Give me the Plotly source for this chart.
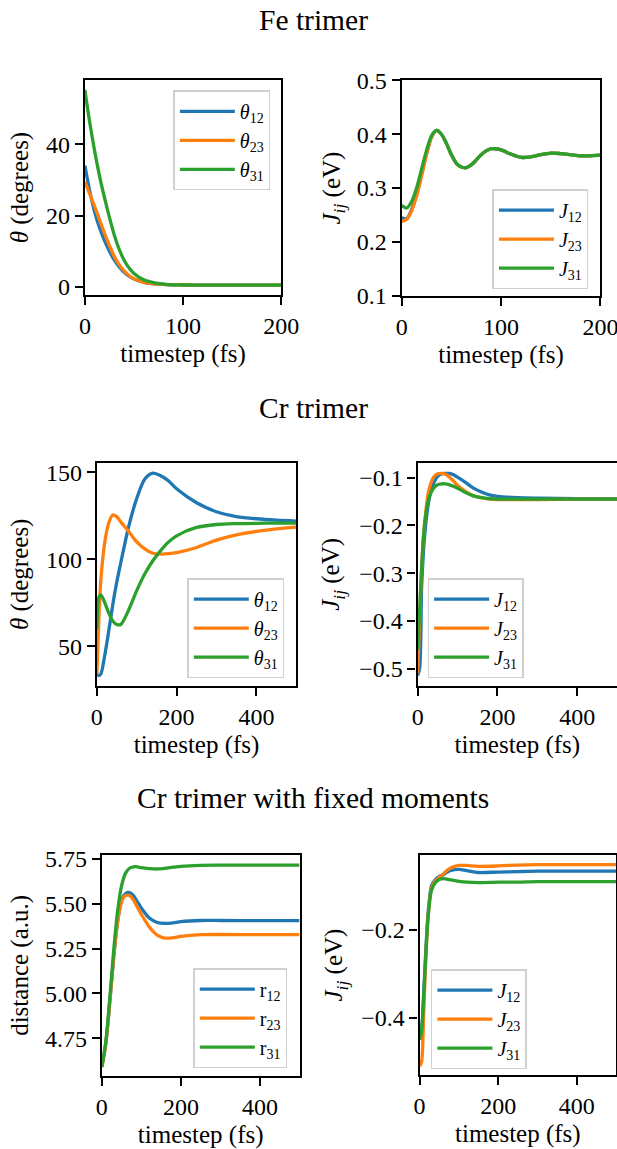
import plotly.graph_objects as go

# The photographed page maps figure pixel p to screen pixel A + S*p (measured);
# every position below is given in screen pixels of the reference and converted.
AX, SX = 4.9, 0.965
AY, SY = 11.5, 0.98
W, H = 636, 1162
FONT = "Liberation Serif"
BLUE, ORANGE, GREEN = "#1f77b4", "#ff7f0e", "#2ca02c"

# ---------------- Fe trimer: angles ----------------
fe_t_theta = [0, 5, 10, 15, 20, 25, 30, 35, 40, 45, 50, 60, 70, 80, 90, 100, 120, 140, 160, 180, 200]
fe_theta12 = [34, 26.8, 21, 16.5, 13, 10, 7.5, 5.6, 4.1, 3.0, 2.2, 1.3, 0.9, 0.7, 0.6, 0.55, 0.5, 0.5, 0.5, 0.5, 0.5]
fe_theta23 = [29.5, 26, 22.5, 18.8, 15, 11.6, 8.5, 6.2, 4.5, 3.2, 2.3, 1.3, 0.9, 0.7, 0.6, 0.55, 0.5, 0.5, 0.5, 0.5, 0.5]
fe_theta31 = [55.2, 46, 38, 31, 25, 19.5, 14.5, 10.5, 7.5, 5.3, 3.8, 2.0, 1.2, 0.8, 0.6, 0.55, 0.5, 0.5, 0.5, 0.5, 0.5]

# ---------------- Fe trimer: exchange ----------------
fe_t_J = [0, 5, 10, 15, 20, 25, 30, 35, 40, 45, 50, 55, 60, 65, 70, 75, 80, 85, 90, 95, 100,
          105, 110, 120, 130, 140, 150, 160, 170, 180, 190, 200]
fe_J12 = [0.245, 0.243, 0.260, 0.288, 0.325, 0.364, 0.395, 0.407, 0.400, 0.383, 0.362, 0.346, 0.339, 0.338,
          0.343, 0.352, 0.362, 0.369, 0.373, 0.373, 0.371, 0.367, 0.363, 0.357, 0.358, 0.362, 0.365, 0.364,
          0.362, 0.360, 0.360, 0.361]
fe_J23 = [0.238, 0.242, 0.258, 0.285, 0.322, 0.362, 0.394, 0.407, 0.400, 0.383, 0.362, 0.346, 0.339, 0.338,
          0.343, 0.352, 0.362, 0.369, 0.373, 0.373, 0.371, 0.367, 0.363, 0.357, 0.358, 0.362, 0.365, 0.364,
          0.362, 0.360, 0.360, 0.361]
fe_J31 = [0.268, 0.263, 0.275, 0.300, 0.335, 0.370, 0.397, 0.407, 0.400, 0.383, 0.362, 0.346, 0.339, 0.338,
          0.343, 0.352, 0.362, 0.369, 0.373, 0.373, 0.371, 0.367, 0.363, 0.357, 0.358, 0.362, 0.365, 0.364,
          0.362, 0.360, 0.360, 0.361]

# ---------------- Cr trimer: angles ----------------
cr_t_theta = [0, 5, 10, 20, 30, 40, 50, 60, 80, 100, 120, 140, 160, 180, 200, 250, 300, 350, 400, 450, 500]
cr_theta12 = [34, 33.2, 34, 45, 59, 74, 87, 98, 119, 135, 146, 149.5, 148, 145, 140.5, 132.5, 127.3, 124.6, 123.3, 122.5, 122]
cr_theta23 = [34, 65, 88, 110, 121, 125.5, 124.5, 121.5, 116, 110, 106, 103.5, 103, 103.2, 103.8, 106.8, 111, 114, 116, 117.5, 118.5]
cr_theta31 = [60, 78, 79.5, 75, 69, 64.5, 62.5, 62.5, 71, 82, 91.5, 99, 105, 110, 113.5, 118.3, 120, 120.5, 120.7, 120.8, 120.8]

# ---------------- Cr trimer: exchange ----------------
cr_t_J = [0, 5, 10, 15, 20, 25, 30, 40, 50, 60, 70, 80, 90, 100, 120, 140, 160, 180, 200, 250, 300, 400, 500]
cr_J12 = [-0.514, -0.50, -0.33, -0.25, -0.20, -0.165, -0.14, -0.112, -0.097, -0.092, -0.091, -0.091, -0.094,
          -0.099, -0.110, -0.122, -0.130, -0.136, -0.139, -0.142, -0.143, -0.144, -0.144]
cr_J23 = [-0.51, -0.40, -0.29, -0.22, -0.175, -0.14, -0.12, -0.099, -0.092, -0.091, -0.093, -0.099, -0.107,
          -0.116, -0.129, -0.138, -0.142, -0.145, -0.146, -0.146, -0.146, -0.145, -0.145]
cr_J31 = [-0.46, -0.38, -0.29, -0.22, -0.18, -0.155, -0.138, -0.122, -0.115, -0.113, -0.113, -0.115, -0.118,
          -0.122, -0.131, -0.138, -0.142, -0.144, -0.145, -0.145, -0.145, -0.145, -0.145]

# ---------------- Cr trimer with fixed moments: distances ----------------
fx_t_r = [0, 10, 20, 30, 40, 50, 60, 70, 80, 90, 100, 120, 140, 160, 180, 200, 250, 300, 400, 500]
fx_r12 = [4.59, 4.72, 4.95, 5.20, 5.40, 5.52, 5.556, 5.562, 5.545, 5.51, 5.475, 5.42, 5.395, 5.39, 5.393, 5.40,
          5.406, 5.406, 5.405, 5.405]
fx_r23 = [4.59, 4.72, 4.95, 5.20, 5.40, 5.51, 5.545, 5.545, 5.52, 5.48, 5.44, 5.37, 5.325, 5.308, 5.31, 5.318,
          5.327, 5.328, 5.327, 5.327]
fx_r31 = [4.59, 4.73, 4.97, 5.24, 5.46, 5.60, 5.67, 5.697, 5.705, 5.705, 5.70, 5.695, 5.693, 5.697, 5.703, 5.708,
          5.713, 5.714, 5.714, 5.714]

# ---------------- Cr trimer with fixed moments: exchange ----------------
fx_t_J = [0, 5, 10, 15, 20, 25, 30, 40, 50, 60, 70, 80, 100, 120, 150, 200, 250, 300, 400, 500]
fx_J12 = [-0.45, -0.43, -0.35, -0.26, -0.18, -0.13, -0.10, -0.085, -0.078, -0.074, -0.068, -0.064, -0.062,
          -0.065, -0.069, -0.068, -0.067, -0.066, -0.066, -0.066]
fx_J23 = [-0.51, -0.50, -0.40, -0.28, -0.19, -0.135, -0.105, -0.088, -0.080, -0.073, -0.064, -0.058, -0.053,
          -0.053, -0.055, -0.054, -0.052, -0.051, -0.051, -0.051]
fx_J31 = [-0.45, -0.43, -0.36, -0.27, -0.19, -0.14, -0.11, -0.092, -0.085, -0.083, -0.084, -0.086, -0.089,
          -0.091, -0.092, -0.091, -0.091, -0.090, -0.090, -0.090]

# ---------------- tick labels ----------------
x_ticks_200 = [0, 100, 200]
x_ticks_500 = [0, 200, 400]
fe_theta_ticks = [0, 20, 40]
fe_J_ticks = [0.1, 0.2, 0.3, 0.4, 0.5]
fe_J_ticktext = ["0.1", "0.2", "0.3", "0.4", "0.5"]
cr_theta_ticks = [50, 100, 150]
cr_J_ticks = [-0.5, -0.4, -0.3, -0.2, -0.1]
cr_J_ticktext = ["\u22120.5", "\u22120.4", "\u22120.3", "\u22120.2", "\u22120.1"]
fx_r_ticks = [4.75, 5.00, 5.25, 5.50, 5.75]
fx_r_ticktext = ["4.75", "5.00", "5.25", "5.50", "5.75"]
fx_J_ticks = [-0.4, -0.2]
fx_J_ticktext = ["\u22120.4", "\u22120.2"]

titles = ["Fe trimer", "Cr trimer", "Cr trimer with fixed moments"]
theta_names = ["<i>θ</i><sub>12</sub>", "<i>θ</i><sub>23</sub>", "<i>θ</i><sub>31</sub>"]
J_names = ["<i>J</i><sub>12</sub>", "<i>J</i><sub>23</sub>", "<i>J</i><sub>31</sub>"]
r_names = ["r<sub>12</sub>", "r<sub>23</sub>", "r<sub>31</sub>"]
colors = [BLUE, ORANGE, GREEN]


def px_x(sx):
    return min(max((sx - AX) / SX / W, 0.0), 1.0)


def px_y(sy):
    return min(max(1 - (sy - AY) / SY / H, 0.0), 1.0)


# panel boxes in reference screen pixels: (x0, x1, y0, y1)
boxes = [
    (84, 281, 79, 294),
    (401.7, 601, 79, 295),
    (96, 296, 462.7, 685.7),
    (417.7, 617.7, 462.7, 685.7),
    (101, 299.3, 855.7, 1076.7),
    (419.7, 616.7, 855.7, 1076),
]
x_ranges = [[0, 200], [0, 200], [0, 500], [0, 500], [0, 500], [0, 500]]
legend_pos = [
    (270, 89),
    (589, 188),
    (284, 578),
    (427.7, 578),
    (287, 969),
    (431, 970),
]
legend_xanchor = ["right", "right", "right", "left", "right", "left"]
y_standoff = [10, 9, 10, 12, 9, 11]

panels = [
    (fe_t_theta, [fe_theta12, fe_theta23, fe_theta31], theta_names, [-2.2, 57.9],
     x_ticks_200, fe_theta_ticks, [str(v) for v in fe_theta_ticks], "<i>θ</i> (degrees)"),
    (fe_t_J, [fe_J12, fe_J23, fe_J31], J_names, [0.1, 0.5],
     x_ticks_200, fe_J_ticks, fe_J_ticktext, "<i>J</i><sub><i>ij</i></sub> (eV)"),
    (cr_t_theta, [cr_theta12, cr_theta23, cr_theta31], theta_names, [27.4, 155.3],
     x_ticks_500, cr_theta_ticks, [str(v) for v in cr_theta_ticks], "<i>θ</i> (degrees)"),
    (cr_t_J, [cr_J12, cr_J23, cr_J31], J_names, [-0.5355, -0.0695],
     x_ticks_500, cr_J_ticks, cr_J_ticktext, "<i>J</i><sub><i>ij</i></sub> (eV)"),
    (fx_t_r, [fx_r12, fx_r23, fx_r31], r_names, [4.542, 5.77],
     x_ticks_500, fx_r_ticks, fx_r_ticktext, "distance (a.u.)"),
    (fx_t_J, [fx_J12, fx_J23, fx_J31], J_names, [-0.530, -0.0295],
     x_ticks_500, fx_J_ticks, fx_J_ticktext, "<i>J</i><sub><i>ij</i></sub> (eV)"),
]

fig = go.Figure()
layout = dict(
    width=W, height=H, margin=dict(l=0, r=0, t=0, b=0, pad=0),
    paper_bgcolor="white", plot_bgcolor="white",
    font=dict(family=FONT, size=22, color="black"),
    annotations=[],
)

for i, (t, series, names, yr, xt, yt, ytt, ylab) in enumerate(panels):
    k = "" if i == 0 else str(i + 1)
    x0, x1, y0, y1 = boxes[i]
    leg = "legend" + k
    for s, n, c in zip(series, names, colors):
        fig.add_trace(go.Scatter(
            x=t, y=s, name=n, mode="lines",
            line=dict(color=c, width=3.3, shape="spline", smoothing=0.8),
            xaxis="x" + k, yaxis="y" + k, legend=leg,
        ))
    axis_common = dict(
        showline=True, linecolor="black", linewidth=2.3,
        ticks="outside", ticklen=8, tickwidth=2.3, tickcolor="black",
        showgrid=False, zeroline=False,
        tickfont=dict(family=FONT, size=24, color="black"),
    )
    layout["xaxis" + k] = dict(
        axis_common, domain=[px_x(x0), px_x(x1)], range=x_ranges[i], anchor="y" + k,
        tickmode="array", tickvals=xt, ticktext=[str(v) for v in xt], mirror=True,
        title=dict(text="timestep (fs)", font=dict(family=FONT, size=25), standoff=7),
    )
    layout["yaxis" + k] = dict(
        axis_common, domain=[px_y(y1), px_y(y0)], range=yr, anchor="x" + k,
        tickmode="array", tickvals=yt, ticktext=ytt, mirror=True,
        title=dict(text=ylab, font=dict(family=FONT, size=25), standoff=y_standoff[i]),
    )
    lx, ly = legend_pos[i]
    layout[leg] = dict(
        x=px_x(lx), y=px_y(ly), xanchor=legend_xanchor[i], yanchor="top",
        bgcolor="rgba(255,255,255,0.8)", bordercolor="#d0d0d0", borderwidth=1.5,
        font=dict(family=FONT, size=20, color="black"),
        tracegroupgap=0, itemwidth=55, traceorder="normal",
    )

title_y = [18.5, 407.5, 798]
for txt, ty in zip(titles, title_y):
    layout["annotations"].append(dict(
        text=txt, x=px_x(313), y=px_y(ty), xref="paper", yref="paper",
        xanchor="center", yanchor="middle", showarrow=False,
        font=dict(family=FONT, size=29.5, color="black"),
    ))

fig.update_layout(**layout)
fig.write_html("out.html")
